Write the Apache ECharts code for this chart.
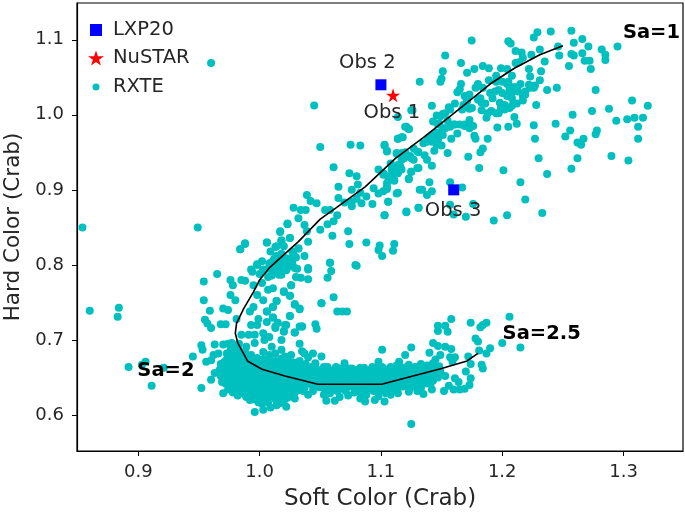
<!DOCTYPE html>
<html><head><meta charset="utf-8">
<style>html,body{margin:0;padding:0;background:#fff}#c{width:685px;height:515px}</style>
<script src="https://cdn.jsdelivr.net/npm/echarts@6/dist/echarts.min.js"></script>
</head><body><div id="c"></div>
<script>
const xTicks=[0.9,1.0,1.1,1.2,1.3];
const yTicks=[0.6,0.7,0.8,0.9,1.0,1.1];
const lxp20=[[1.1,1.04],[1.16,0.9]];
const nustar=[[1.11,1.026]];
const modelTrack=[[1.25,1.092],[1.231,1.08],[1.21,1.062],[1.19,1.041],[1.167,1.011],[1.136,0.971],[1.112,0.942],[1.087,0.904],[1.063,0.876],[1.05,0.861],[1.032,0.831],[1.008,0.796],[1.0,0.78],[0.995,0.764],[0.987,0.742],[0.981,0.722],[0.98,0.709],[0.982,0.696],[0.99,0.672],[1.002,0.661],[1.021,0.652],[1.048,0.641],[1.1006,0.641],[1.15,0.662],[1.171,0.672],[1.18,0.682]];
const obsLabels=[["Obs 2",1.0888,1.069],["Obs 1",1.109,1.003],["Obs 3",1.1595,0.872]];
const saLabels=[["Sa=1",1.323,1.109],["Sa=2.5",1.2325,0.708],["Sa=2",0.9228,0.659]];
const rxteUpper=[[1.1748,1.099],[1.205,1.098],[1.207,1.095],[1.229,1.11],[1.226,1.103],[1.24,1.111],[1.257,1.112],[1.266,1.101],[1.259,1.096],[1.271,1.091],[1.295,1.091],[1.282,1.087],[1.285,1.08],[1.285,1.073],[1.272,1.072],[1.268,1.072],[1.266,1.082],[1.257,1.081],[1.259,1.079],[1.255,1.065],[1.273,1.061],[1.246,1.091],[1.247,1.079],[1.235,1.071],[1.231,1.087],[1.224,1.08],[1.211,1.085],[1.216,1.083],[1.217,1.076],[1.211,1.069],[1.214,1.07],[1.153,1.079],[1.166,1.069],[1.151,1.058],[1.171,1.056],[1.177,1.061],[1.184,1.065],[1.189,1.062],[1.199,1.062],[1.204,1.061],[1.195,1.052],[1.189,1.046],[1.208,1.052],[1.222,1.061],[1.232,1.058],[1.223,1.051],[1.231,1.046],[1.132,1.044],[1.15,1.048],[1.149,1.044],[1.166,1.041],[1.165,1.034],[1.18,1.041],[1.178,1.036],[1.184,1.036],[1.2,1.044],[1.205,1.044],[1.215,1.041],[1.227,1.039],[1.223,1.036],[1.237,1.033],[1.245,1.036],[1.277,1.033],[1.208,1.036],[1.212,1.036],[1.209,1.031],[1.197,1.033],[1.194,1.031],[1.19,1.029],[1.219,1.031],[1.217,1.025],[1.219,1.027],[1.204,1.025],[1.208,1.022],[1.169,1.025],[1.173,1.027],[1.182,1.022],[1.186,1.015],[1.198,1.016],[1.217,1.019],[1.228,1.013],[1.307,1.019],[1.32,1.012],[1.288,1.008],[1.274,1.005],[1.258,1],[1.294,0.992],[1.303,0.994],[1.309,0.996],[1.316,0.996],[1.312,0.984],[1.312,0.968],[1.278,0.979],[1.277,0.974],[1.256,0.979],[1.252,0.971],[1.244,0.988],[1.226,0.986],[1.227,0.968],[1.267,0.968],[1.262,0.963],[1.265,0.96],[1.29,0.945],[1.304,0.939],[1.262,0.942],[1.257,0.928],[1.23,0.942],[1.237,0.921],[1.201,0.926],[1.181,0.929],[1.215,0.91],[1.219,0.887],[1.233,0.869],[1.204,0.866],[1.193,0.859],[1.17,0.864],[1.176,0.881],[1.157,0.91],[1.167,0.903],[1.157,0.88],[1.16,0.867],[1.131,0.876],[1.121,0.871],[1.103,0.866],[1.106,0.884],[1.114,0.896],[1.134,0.9],[1.138,0.893],[1.142,0.898],[1.14,0.91],[1.123,0.915],[1.13,0.929],[1.125,0.924],[1.142,0.932],[1.138,0.94],[1.136,0.946],[1.13,0.951],[1.155,0.949],[1.172,0.944],[1.182,0.95],[1.184,0.955],[1.188,0.968],[1.196,0.983],[1.205,0.984],[1.212,0.988],[1.21,0.997],[1.187,0.996],[1.188,1.002],[1.183,1.006],[1.197,1.002],[1.202,1.007],[1.208,1.012],[1.199,1.01],[1.173,0.987],[1.169,0.985],[1.173,0.993],[1.176,0.985],[1.157,0.984],[1.161,0.987],[1.158,0.968],[1.177,0.972],[1.178,0.968],[1.173,1.008],[1.168,1.013],[1.171,1.02],[1.161,1.015],[1.156,1.01],[1.151,1.001],[1.146,0.999],[1.143,0.991],[1.142,1.012],[1.126,1.006],[1.12,0.984],[1.123,0.981],[1.151,0.982],[1.146,0.976],[1.139,0.969],[1.135,0.962],[1.142,0.964],[1.146,0.96],[1.15,0.959],[1.144,0.952],[1.117,0.97],[1.114,0.968],[1.103,0.959],[1.105,0.952],[1.113,0.948],[1.117,0.94],[1.127,0.94],[1.124,0.945],[1.116,0.931],[1.109,0.927],[1.114,0.922],[1.111,0.913],[1.105,0.909],[1.102,0.898],
[1.163,1.03],[1.192,1.022],[1.212,1.015],[1.191,1.005],[1.155,0.992],[1.163,0.975],[1.148,0.988],[1.127,0.955],[1.12,0.95],[1.108,0.935],[1.102,0.92]];
const rxteArm=[[1.195,1.044],[1.204,1.041],[1.206,1.033],[1.21,1.037],[1.213,1.031],[1.2,1.029],[1.202,1.013],[1.206,1.009],[1.199,1.007],[1.195,1.002],[1.222,1.04],[1.226,1.036],[1.171,1.018],[1.175,1.009],[1.18,1.02],[1.183,1.016],[1.169,0.987],[1.165,0.987],[1.16,0.987],[1.173,0.982],[1.167,1.007],[1.149,0.998],[1.153,1.002],[1.157,1.007],[1.147,0.987],[1.153,0.982],[1.142,0.973],[1.147,0.967],[1.151,0.973],[1.138,0.964],[1.117,0.949],[1.112,0.931],[1.12,0.944],[1.106,0.918],[1.11,0.918],[1.117,0.927],[1.105,0.904],[1.102,0.922]];
const rxteMiddle=[[1.045,1.0124],[1.05,0.957],[1.075,0.96],[1.083,0.959],[1.125,1.006],[1.114,0.997],[1.121,0.984],[1.123,0.981],[1.114,0.968],[1.118,0.97],[1.103,0.96],[1.105,0.951],[1.113,0.949],[1.131,0.95],[1.061,0.93],[1.074,0.922],[1.08,0.918],[1.098,0.927],[1.119,0.942],[1.125,0.942],[1.114,0.933],[1.109,0.927],[1.125,0.924],[1.131,0.929],[1.106,0.917],[1.111,0.912],[1.123,0.914],[1.094,0.902],[1.098,0.895],[1.105,0.901],[1.113,0.895],[1.132,0.9],[1.093,0.881],[1.106,0.884],[1.131,0.876],[1.121,0.87],[1.103,0.866],[1.065,0.904],[1.081,0.907],[1.076,0.9],[1.083,0.896],[1.088,0.891],[1.065,0.889],[1.076,0.878],[1.084,0.882],[1.039,0.893],[1.042,0.885],[1.047,0.882],[1.028,0.876],[1.034,0.873],[1.038,0.873],[1.032,0.862],[1.054,0.873],[1.058,0.873],[1.064,0.866],[1.07,0.883],[1.076,0.884],[1.08,0.888],[1.023,0.854],[1.056,0.854],[1.061,0.858],[1.05,0.847],[1.037,0.853],[1.039,0.845],[1.017,0.845],[1.025,0.836],[1.018,0.833],[1.006,0.83],[0.988,0.829],[0.984,0.821],[1.014,0.825],[1.02,0.825],[1.032,0.822],[1.04,0.831],[1.06,0.839],[1.073,0.845],[1.074,0.828],[1.088,0.83],[1.099,0.826],[1.098,0.82],[1.101,0.812],[1.111,0.828],[1.11,0.819],[1.028,0.813],[1.037,0.812],[1.022,0.809],[1.01,0.804],[0.998,0.801],[0.993,0.794],[1.003,0.794],[1.024,0.798],[1.029,0.796],[1.04,0.796],[1.058,0.803],[1.079,0.8],
[1.08,0.799],[1.058,0.803],[1.059,0.792],[1.056,0.783],[1.04,0.794],[1.04,0.781],[1.034,0.783],[1.03,0.784],[1.031,0.795],[1.051,0.749],[1.061,0.757],[1.064,0.738],[1.068,0.738],[1.072,0.738],[1.046,0.721],[1.047,0.715],[1.035,0.718],[1.029,0.71],[1.025,0.732],[1.033,0.741],[1.029,0.747],[1.025,0.759],[1.026,0.773],[1.02,0.764],[1.014,0.752],[1.011,0.744],[1.006,0.738],[1.011,0.73],[1.015,0.723],[1.013,0.716],[1.022,0.72],[1.02,0.712],
[1.002,0.805],[1.008,0.802],[1.012,0.808],[1.016,0.803],[1.02,0.806],[1.025,0.807],[1.03,0.81],[1.007,0.795],[1.012,0.797],[1.017,0.796],[1.022,0.793],[1.027,0.802],[1.018,0.815],[1.014,0.812],[1.012,0.79],[1.009,0.818],[1.027,0.818],[1.01,0.786],[1.016,0.787],[1.0,0.788]];
const rxteFar=[[0.854,0.85],[0.949,0.85],[0.96,1.069],[0.86,0.739],[0.884,0.743],[0.883,0.731],[0.892,0.664],[0.906,0.671],[0.903,0.667],[0.921,0.663],[0.911,0.639],[0.945,0.678],[0.952,0.693],[0.953,0.687],[0.952,0.636],[0.954,0.778],[0.965,0.788],[0.954,0.753],[0.959,0.739],[0.955,0.727],[0.957,0.722],[0.96,0.716],[0.968,0.721],[0.972,0.721],[0.97,0.742],[0.974,0.74],[0.98,0.753],[0.985,0.78],[0.988,0.779],[0.976,0.78],[0.978,0.773],[0.976,0.76],[0.984,0.821],[0.988,0.828],[1.006,0.83],[0.998,0.8],[0.994,0.791],[1.003,0.793],[1.01,0.802],[1.013,0.824],[1.018,0.832],[1.017,0.844],[1.023,0.855],[1.025,0.836],[1.028,0.813],[1.032,0.822],[1.026,0.773],[1.021,0.8],[1.016,0.793],[1.018,0.787],[1.007,0.784],[1.002,0.776],[0.995,0.773],[1.011,0.769],[1.007,0.767],[1.02,0.765],[1.025,0.759],[0.998,0.76],[1.003,0.753],[1.014,0.752],[1.011,0.744],[1.006,0.738],[0.995,0.744],[0.992,0.738],[1.029,0.748],[1.025,0.732],[1.033,0.742],[1.011,0.73],[0.999,0.728],[1.006,0.724],[1.013,0.718],[1.021,0.72],[1.029,0.71],[1.02,0.711],[1.033,0.718],[0.981,0.728],[0.993,0.72],[0.998,0.72],[0.991,0.707],[0.985,0.707],[0.996,0.707],[1.003,0.709],[1.004,0.7],[0.989,0.691],[0.996,0.696],[0.963,0.694],[0.966,0.682],[0.962,0.68],[0.956,0.671],[0.96,0.673],[0.97,0.694],[0.977,0.696],[0.974,0.695],[1.01,0.691],[1.018,0.687],[1.026,0.68],[1.035,0.685],[1.008,0.68],[1.013,0.682],[1.021,0.678],[1.04,0.677],[1.033,0.695],[1.018,0.7],[1.008,0.704]];
const rxteLowerRight=[[1.051,0.749],[1.035,0.718],[1.158,0.728],[1.147,0.719],[1.153,0.719],[1.147,0.712],[1.155,0.711],[1.174,0.723],[1.187,0.723],[1.184,0.72],[1.182,0.717],[1.206,0.731],[1.2,0.696],[1.215,0.69],[1.19,0.689],[1.187,0.682],[1.181,0.686],[1.178,0.702],[1.18,0.698],[1.174,0.668],[1.172,0.678],[1.183,0.667],[1.184,0.662],[1.143,0.696],[1.147,0.692],[1.153,0.691],[1.158,0.688],[1.149,0.68],[1.14,0.683],[1.125,0.69],[1.101,0.687],[1.12,0.68],[1.115,0.671],[1.098,0.671],[1.07,0.669],[1.044,0.682],[1.037,0.682],[1.051,0.678],[1.046,0.669],[1.125,0.588],[1.157,0.677],[1.161,0.677],[1.159,0.671],[1.145,0.674],[1.17,0.658],[1.174,0.649],[1.161,0.649],[1.164,0.644],[1.173,0.64],[1.169,0.635],[1.165,0.634],[1.16,0.634],[1.156,0.639],[1.152,0.632],[1.153,0.652],[1.142,0.634],[1.135,0.628],[1.103,0.618],[1.095,0.62],[1.087,0.618],[1.083,0.622],[1.073,0.626],[1.066,0.624],[1.062,0.619],[1.055,0.619],[1.053,0.627],[1.04,0.627],[1.029,0.622],[1.108,0.627],[1.114,0.629],[1.123,0.631],[1.13,0.632]];
const rxteBlobLeft=[[0.96,0.647],[0.963,0.656],[0.968,0.668],[0.967,0.66],[0.968,0.652],[0.969,0.644],[0.973,0.682],[0.973,0.674],[0.972,0.666],[0.974,0.658],[0.973,0.65],[0.972,0.642],[0.974,0.634],[0.97,0.629],[0.978,0.69],[0.978,0.681],[0.977,0.673],[0.979,0.664],[0.978,0.655],[0.977,0.647],[0.979,0.638],[0.978,0.63],[0.983,0.695],[0.983,0.686],[0.982,0.677],[0.984,0.669],[0.983,0.66],[0.982,0.651],[0.984,0.643],[0.983,0.634],[0.982,0.626],[0.988,0.684],[0.989,0.675],[0.987,0.667],[0.988,0.658],[0.989,0.65],[0.987,0.641],[0.988,0.632],[0.989,0.624],[0.993,0.68],[0.992,0.672],[0.994,0.663],[0.993,0.655],[0.992,0.646],[0.994,0.637],[0.993,0.629],[0.992,0.62],[0.998,0.676],[0.999,0.668],[0.997,0.659],[0.998,0.651],[0.999,0.642],[0.997,0.634],[0.998,0.625],[0.996,0.604],[0.999,0.617],[1.003,0.684],[1.003,0.674],[1.002,0.666],[1.004,0.657],[1.003,0.649],[1.002,0.64],[1.004,0.632],[1.003,0.623],[1.003,0.607],[1.002,0.615],[1.008,0.676],[1.007,0.668],[1.009,0.659],[1.008,0.651],[1.007,0.643],[1.009,0.634],[1.008,0.626],[1.007,0.617],[1.009,0.61],[1.013,0.672],[1.014,0.664],[1.012,0.655],[1.013,0.647],[1.014,0.638],[1.012,0.63],[1.013,0.621],[1.014,0.613],[1.018,0.675],[1.017,0.667],[1.019,0.658],[1.018,0.65],[1.017,0.641],[1.019,0.633],[1.018,0.624],[1.017,0.616],[1.023,0.673],[1.024,0.665],[1.022,0.656],[1.023,0.648],[1.024,0.64],[1.022,0.631],[1.023,0.623],[1.022,0.611],[1.028,0.67],[1.027,0.662],[1.029,0.654],[1.028,0.646],[1.027,0.637],[1.029,0.63],[1.033,0.672],[1.034,0.664],[1.032,0.656],[1.033,0.648],[1.034,0.64],[1.032,0.633],[1.038,0.668],[1.037,0.66],[1.039,0.652],[1.038,0.644],[1.037,0.636]];
const rxteBand=[[1.043,0.664],[1.044,0.656],[1.042,0.648],[1.043,0.64],[1.044,0.632],[1.048,0.66],[1.049,0.652],[1.047,0.645],[1.048,0.637],[1.053,0.664],[1.054,0.656],[1.052,0.649],[1.053,0.641],[1.054,0.634],[1.058,0.66],[1.059,0.652],[1.057,0.645],[1.058,0.636],[1.058,0.629],[1.063,0.664],[1.064,0.656],[1.062,0.648],[1.063,0.64],[1.064,0.632],[1.068,0.659],[1.069,0.651],[1.067,0.643],[1.068,0.635],[1.073,0.662],[1.074,0.654],[1.072,0.646],[1.073,0.638],[1.078,0.66],[1.079,0.652],[1.077,0.644],[1.078,0.636],[1.078,0.63],[1.083,0.663],[1.084,0.655],[1.082,0.647],[1.083,0.639],[1.084,0.63],[1.088,0.659],[1.089,0.651],[1.087,0.643],[1.088,0.635],[1.088,0.627],[1.093,0.664],[1.094,0.656],[1.092,0.648],[1.093,0.64],[1.094,0.632],[1.098,0.665],[1.099,0.657],[1.097,0.649],[1.098,0.641],[1.099,0.633],[1.098,0.625],[1.103,0.661],[1.104,0.653],[1.102,0.645],[1.103,0.637],[1.104,0.629],[1.108,0.664],[1.109,0.656],[1.107,0.648],[1.108,0.64],[1.109,0.634],[1.113,0.666],[1.114,0.658],[1.112,0.65],[1.113,0.642],[1.114,0.636],[1.118,0.662],[1.119,0.654],[1.117,0.646],[1.118,0.638],[1.123,0.667],[1.124,0.659],[1.122,0.651],[1.123,0.643],[1.124,0.636],[1.128,0.664],[1.129,0.656],[1.127,0.648],[1.128,0.64],[1.133,0.668],[1.134,0.66],[1.132,0.652],[1.133,0.644],[1.133,0.636],[1.138,0.666],[1.139,0.658],[1.137,0.65],[1.138,0.642],[1.143,0.669],[1.144,0.661],[1.142,0.654],[1.143,0.646],[1.148,0.665],[1.149,0.658],[1.147,0.65]];
const rxteBlobFill=[[0.971,0.671],[0.971,0.663],[0.971,0.655],[0.971,0.647],[0.976,0.686],[0.975,0.678],[0.976,0.669],[0.976,0.661],[0.975,0.652],[0.976,0.643],[0.976,0.635],[0.981,0.69],[0.98,0.682],[0.981,0.673],[0.98,0.665],[0.981,0.656],[0.98,0.648],[0.981,0.639],[0.981,0.631],[0.986,0.68],[0.986,0.672],[0.985,0.664],[0.986,0.655],[0.986,0.646],[0.985,0.637],[0.986,0.629],[0.991,0.677],[0.99,0.669],[0.991,0.66],[0.991,0.652],[0.99,0.644],[0.991,0.635],[0.99,0.626],[0.996,0.672],[0.996,0.664],[0.995,0.656],[0.996,0.647],[0.995,0.638],[0.996,0.63],[0.995,0.621],[1.0,0.671],[1.001,0.662],[1.0,0.654],[1.001,0.645],[1.0,0.637],[1.001,0.628],[1.0,0.62],[1.006,0.672],[1.005,0.663],[1.006,0.655],[1.005,0.646],[1.006,0.638],[1.005,0.629],[1.005,0.62],[1.011,0.668],[1.01,0.66],[1.011,0.651],[1.01,0.642],[1.011,0.634],[1.01,0.625],[1.016,0.67],[1.015,0.662],[1.016,0.653],[1.015,0.645],[1.016,0.636],[1.015,0.628],[1.015,0.619],[1.021,0.669],[1.02,0.661],[1.021,0.652],[1.02,0.644],[1.021,0.636],[1.02,0.627],[1.02,0.619],[1.026,0.667],[1.025,0.659],[1.026,0.65],[1.025,0.642],[1.026,0.634],[1.025,0.626],[1.031,0.667],[1.03,0.659],[1.031,0.651],[1.03,0.643],[1.03,0.635],[1.036,0.664],[1.035,0.656],[1.036,0.648],[1.035,0.64],[1.036,0.632]];
const rxteBandFill=[[1.041,0.66],[1.041,0.652],[1.041,0.644],[1.046,0.664],[1.046,0.656],[1.046,0.648],[1.046,0.64],[1.051,0.659],[1.05,0.645],[1.051,0.637],[1.056,0.664],[1.055,0.648],[1.056,0.64],[1.06,0.656],[1.061,0.642],[1.061,0.634],[1.066,0.662],[1.065,0.652],[1.066,0.644],[1.066,0.636],[1.071,0.658],[1.07,0.648],[1.071,0.64],[1.071,0.632],[1.076,0.662],[1.075,0.656],[1.076,0.648],[1.075,0.64],[1.081,0.66],[1.08,0.648],[1.081,0.64],[1.081,0.632],[1.086,0.663],[1.085,0.651],[1.086,0.643],[1.086,0.636],[1.091,0.66],[1.09,0.652],[1.091,0.644],[1.091,0.636],[1.096,0.662],[1.095,0.652],[1.096,0.644],[1.096,0.636],[1.101,0.664],[1.1,0.65],[1.101,0.642],[1.101,0.634],[1.106,0.66],[1.105,0.65],[1.106,0.642],[1.106,0.634],[1.111,0.662],[1.11,0.652],[1.111,0.644],[1.111,0.638],[1.116,0.664],[1.115,0.65],[1.116,0.642],[1.121,0.664],[1.12,0.656],[1.121,0.647],[1.121,0.64],[1.126,0.66],[1.125,0.652],[1.126,0.644],[1.131,0.664],[1.13,0.648],[1.131,0.64],[1.136,0.662],[1.135,0.654],[1.136,0.646],[1.141,0.666],[1.14,0.65],[1.141,0.642],[1.146,0.66],[1.146,0.654]];
const rxte=[].concat(rxteUpper,rxteArm,rxteMiddle,rxteFar,rxteLowerRight,rxteBlobLeft,rxteBand,rxteBlobFill,rxteBandFill);

const txt='#262626', font='"DejaVu Sans"';
const starPath='path://M50 0 L61.8 35.5 L100 35.5 L69.1 57.4 L80.9 92.7 L50 70.6 L19.1 92.7 L30.9 57.4 L0 35.5 L38.2 35.5 Z';
function legendStyle(pad){return {fontFamily:font,fontSize:19.5,color:txt,padding:[0,0,0,pad]};}
function axis(ticks,min,max,name,gap,nameSize,margin){return {type:'value',min,max,name,nameLocation:'middle',nameGap:gap,
  nameTextStyle:{fontFamily:font,fontSize:nameSize,color:txt},splitLine:{show:false},
  axisLine:{show:true,onZero:false,lineStyle:{color:'#000',width:1.2}},
  axisTick:{show:true,length:5,customValues:ticks,lineStyle:{color:'#000',width:1}},
  axisLabel:{show:true,customValues:ticks,fontFamily:font,fontSize:18,color:txt,margin,formatter:v=>Number(v).toFixed(1)}};}
const chart=echarts.init(document.getElementById('c'),null,{renderer:'canvas'});
chart.setOption({animation:false,backgroundColor:'#fff',
 grid:{left:77,top:3,width:606,height:448,outerBoundsMode:'none',show:true,borderColor:'#000',borderWidth:1.2,backgroundColor:'transparent'},
 xAxis:axis(xTicks,0.8495,1.349,'Soft Color (Crab)',37,23,12),
 yAxis:axis(yTicks,0.552,1.149,'Hard Color (Crab)',52,21.5,13),
 legend:[
  {orient:'vertical',padding:0,left:90,top:20,itemWidth:12,itemHeight:12,textStyle:legendStyle(6),data:[{name:'LXP20',icon:'rect'}]},
  {orient:'vertical',padding:0,left:88,top:48,itemWidth:16,itemHeight:16,textStyle:legendStyle(4),data:[{name:'NuSTAR',icon:starPath}]},
  {orient:'vertical',padding:0,left:92.5,top:77,itemWidth:7,itemHeight:7,textStyle:legendStyle(8.5),data:[{name:'RXTE',icon:'circle'}]}
 ],
 series:[
  {name:'RXTE',type:'scatter',data:rxte,symbol:'circle',symbolSize:8,itemStyle:{color:'#00bfbf',opacity:1},z:2,silent:true,large:false,progressive:0},
  {name:'Model',type:'line',data:modelTrack,showSymbol:false,lineStyle:{color:'#000',width:1.6},z:3,silent:true},
  {name:'LXP20',type:'scatter',data:lxp20,symbol:'rect',symbolSize:11,itemStyle:{color:'#0000ff',opacity:1},z:4},
  {name:'NuSTAR',type:'scatter',data:nustar,symbol:starPath,symbolSize:14,itemStyle:{color:'#ff0000',opacity:1},z:5},
  {name:'obs',type:'scatter',data:obsLabels.map(d=>({name:d[0],value:[d[1],d[2]]})),symbolSize:0,z:6,itemStyle:{opacity:1},
    label:{show:true,position:'inside',formatter:'{b}',fontFamily:font,fontSize:19.5,color:txt}},
  {name:'sa',type:'scatter',data:saLabels.map(d=>({name:d[0],value:[d[1],d[2]]})),symbolSize:0,z:6,itemStyle:{opacity:1},
    label:{show:true,position:'inside',formatter:'{b}',fontFamily:font,fontSize:19.5,fontWeight:'bold',color:'#000'}}
 ]});
</script></body></html>
